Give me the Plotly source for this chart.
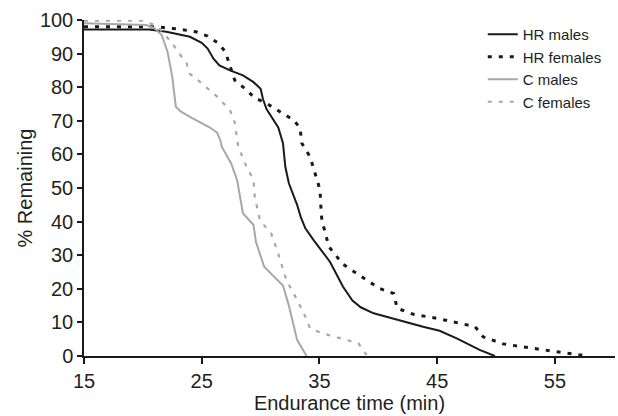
import plotly.graph_objects as go

# ---- data ----
hr_males_t = [15, 20.5, 22, 24, 25, 25.5, 26.0, 26.5, 27.4, 28.5, 29.4, 30.0, 30.2, 30.5, 31.5,
              31.9, 32.1, 32.4, 33.1, 33.4, 33.8, 34.5, 35.9, 37.0, 37.8, 38.5, 39.6, 41.6,
              43.8, 45.2, 46.7, 48.6, 49.9]
hr_males_v = [97.2, 97.2, 96.5, 95, 93.2, 91.5, 88.5, 86.5, 85, 83.5, 81.5, 79.5, 76.5, 73.5, 68,
              63.3, 56.3, 51.4, 45, 41.5, 38, 34.5, 28, 20.6, 16.5, 14.5, 12.7, 10.7,
              8.7, 7.5, 5.2, 1.8, 0]

hr_females_t = [15, 21, 23, 24.5, 25.5, 26.4, 27.0, 27.4, 27.8, 28.8, 29.5, 30.5, 31.7, 32.8,
                33.35, 33.5, 34.2, 34.6, 35.05, 35.1, 35.2, 35.8, 37.0, 39.0, 40.1, 41.3,
                41.4, 41.6, 43.0, 45.0, 47.2, 48.2, 48.9, 50.6, 53.7, 56.0, 57.8]
hr_females_v = [98, 98, 97.3, 96.5, 95.2, 93.1, 90.6, 86.6, 82.1, 79.2, 76.8, 75.2, 72.7, 70.2,
                67.9, 63.3, 59.3, 54.4, 49.4, 45.4, 40.5, 32.5, 27.3, 22.6, 20.1, 18.6,
                17.2, 14.2, 12.4, 11.2, 9.5, 8.8, 5.7, 3.6, 2, 1, 0]

c_males_t = [15, 20.3, 21.0, 21.6, 22.1, 22.5, 22.8, 23.2, 24.0, 24.85, 25.7, 26.3, 26.6, 26.7,
             27.5, 28.0, 28.25, 28.4, 28.5, 29.4, 29.6, 30.3, 31.9, 32.4, 32.8, 33.1, 33.9]
c_males_v = [99, 98.5, 97.5, 95.5, 90.5, 83, 74.2, 72.8, 71.2, 69.7, 68, 66.5, 64, 62.3,
             57.3, 52.4, 47.4, 44, 42.5, 39, 34, 26.6, 21, 15, 9, 4.8, 0]

c_females_t = [15, 20, 21.2, 22.4, 23.3, 23.7, 23.95, 24.85, 26.3, 27.4, 27.8, 28.1, 28.8, 29.4,
               29.5, 29.75, 29.95, 30.9, 31.4, 32.2, 33.1, 33.8, 34.2, 35.3, 37.3, 38.3, 39.0]
c_females_v = [99.8, 99.8, 98.2, 93.5, 89, 87.3, 84.1, 81.6, 77.2, 73.2, 69.5, 62.3, 56.3, 52.4,
               47.4, 43.5, 40.3, 36.5, 31.5, 22.5, 16.7, 11.7, 8.2, 6.7, 4.8, 3.8, 0.3]

x_ticks = [15, 25, 35, 45, 55]
y_ticks = [0, 10, 20, 30, 40, 50, 60, 70, 80, 90, 100]

FONT = "Liberation Sans, Arial, Helvetica, sans-serif"
BLACK = "#1a1a1a"
GRAY = "#a8a8a8"

fig = go.Figure()
fig.add_trace(go.Scatter(x=hr_males_t, y=hr_males_v, mode="lines", name="HR males",
                         line=dict(color=BLACK, width=2)))
fig.add_trace(go.Scatter(x=hr_females_t, y=hr_females_v, mode="lines", name="HR females",
                         line=dict(color=BLACK, width=3, dash="4px,7px")))
fig.add_trace(go.Scatter(x=c_males_t, y=c_males_v, mode="lines", name="C males",
                         line=dict(color=GRAY, width=2)))
fig.add_trace(go.Scatter(x=c_females_t, y=c_females_v, mode="lines", name="C females",
                         line=dict(color=GRAY, width=2.2, dash="4px,7px")))

fig.update_layout(
    width=618, height=416,
    margin=dict(l=84, r=3, t=20, b=60, autoexpand=False),
    paper_bgcolor="white", plot_bgcolor="white",
    font=dict(family=FONT, color="#231f20", size=20),
    showlegend=True,
    legend=dict(x=0.751, y=1.006, xanchor="left", yanchor="top",
                font=dict(size=15, family=FONT, color="#231f20"),
                bgcolor="rgba(0,0,0,0)", borderwidth=0, tracegroupgap=0),
    xaxis=dict(range=[15, 60.1], tickvals=x_ticks, ticktext=[str(v) for v in x_ticks],
               automargin=False,
               showline=True, linecolor=BLACK, linewidth=1.5, showgrid=False, zeroline=False,
               ticks="outside", ticklen=6, tickwidth=1.5, tickcolor=BLACK,
               tickfont=dict(size=20),
               title=dict(text="Endurance time (min)", font=dict(size=20), standoff=4)),
    yaxis=dict(range=[0, 100], tickvals=y_ticks, automargin=False,
               showline=True, linecolor=BLACK, linewidth=1.5, showgrid=False, zeroline=False,
               ticks="outside", ticklen=5, tickwidth=1.5, tickcolor=BLACK,
               tickfont=dict(size=20),
               title=dict(text="% Remaining", font=dict(size=20), standoff=2)),
)

fig.write_html("out.html", config={"displayModeBar": False},
               post_script="document.body.style.margin='0';document.body.style.padding='0';")
